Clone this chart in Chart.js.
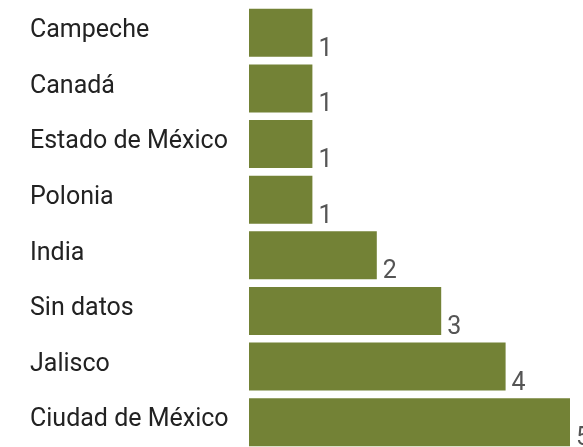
<!DOCTYPE html>
<html>
<head>
<meta charset="utf-8">
<script src="https://cdn.jsdelivr.net/npm/chart.js@4"></script>
<style>
  html, body { margin: 0; padding: 0; background: #fff; overflow: hidden; }
  #wrap { width: 583px; height: 460px; }
</style>
</head>
<body>
<div id="wrap"><canvas id="grafico" width="583" height="460"></canvas></div>
<script>
const lugares = ["Campeche", "Canadá", "Estado de México", "Polonia", "India", "Sin datos", "Jalisco", "Ciudad de México"];
const totales = [1, 1, 1, 1, 2, 3, 4, 5];

// etiquetas de valor abajo a la derecha de cada barra
const etiquetasValor = {
  id: "etiquetasValor",
  afterDatasetsDraw(chart) {
    const ctx = chart.ctx;
    const meta = chart.getDatasetMeta(0);
    ctx.save();
    ctx.font = "25px Roboto";
    ctx.fillStyle = "#555";
    ctx.textAlign = "left";
    ctx.textBaseline = "alphabetic";
    meta.data.forEach((bar, i) => {
      ctx.fillText(String(totales[i]), bar.x + 5, bar.y + bar.height / 2 - 2);
    });
    ctx.restore();
  }
};

new Chart(document.getElementById("grafico").getContext("2d"), {
  type: "bar",
  data: {
    labels: lugares,
    datasets: [{
      data: totales,
      backgroundColor: "#738236",
      borderColor: "rgba(255,255,255,0.35)",
      borderWidth: 1,
      categoryPercentage: 1,
      barPercentage: 0.9
    }]
  },
  options: {
    indexAxis: "y",
    responsive: false,
    animation: false,
    layout: { padding: { left: 30, right: 12, top: 5, bottom: 10 } },
    plugins: { legend: { display: false }, tooltip: { enabled: false } },
    scales: {
      x: { display: false, min: 0, max: 5 },
      y: {
        grid: { display: false },
        border: { display: false },
        afterFit: (scale) => {
          scale.width = 219;
          scale.paddingTop = 0;
          scale.paddingBottom = 0;
        },
        ticks: {
          crossAlign: "far",
          labelOffset: -2,
          color: "#222",
          font: { family: "Roboto", size: 25 }
        }
      }
    }
  },
  plugins: [etiquetasValor]
});
</script>
</body>
</html>
